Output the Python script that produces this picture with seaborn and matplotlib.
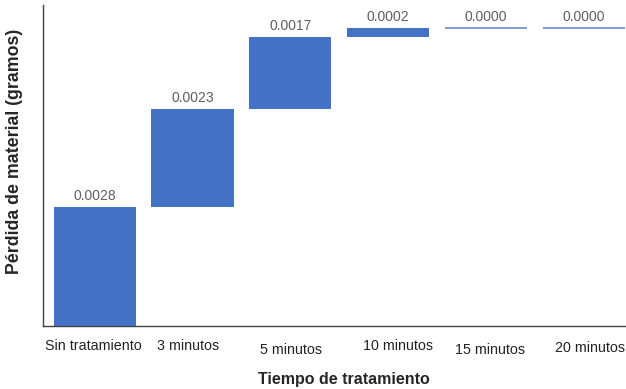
import matplotlib
matplotlib.use("Agg")
import matplotlib.pyplot as plt
import matplotlib.transforms as mtransforms
import seaborn as sns
import pandas as pd
import numpy as np

# Pérdida de material por tiempo de tratamiento (cascada)
categorias = ["Sin tratamiento", "3 minutos", "5 minutos", "10 minutos", "15 minutos", "20 minutos"]
perdidas = [0.0028, 0.0023, 0.0017, 0.0002, 0.0000, 0.0000]

bases = np.concatenate([[0.0], np.cumsum(perdidas)[:-1]])
df = pd.DataFrame({"categoria": categorias, "perdida": perdidas, "base": bases})

sns.set_theme(style="white")
plt.rcParams["font.family"] = ["Liberation Sans", "DejaVu Sans"]

fig = plt.figure(figsize=(6.26, 3.89), dpi=100)
ax = fig.add_axes([0.069, 0.162, 0.931, 0.825])

azul = "#4472C4"
sns.barplot(data=df, x="categoria", y="perdida", bottom=df["base"].to_numpy(),
            color=azul, saturation=1, width=0.84, ax=ax)

for p in ax.patches:
    p.set_linewidth(0)
    if p.get_height() == 0:
        p.set_edgecolor("#6a8bcb")
        p.set_linewidth(1.2)

# Etiquetas de valor sobre cada barra
for i, (v, b) in enumerate(zip(perdidas, bases)):
    ax.annotate(f"{v:.4f}", (i, b + v), xytext=(0, 3), textcoords="offset points",
                ha="center", va="bottom", fontsize=10, color="#5f5f5f")

ax.set_xlim(-0.526, 5.43)
ax.set_ylim(0, 0.00755)
ax.set_yticks([])
ax.set_xlabel("Tiempo de tratamiento", fontsize=11.5, fontweight="bold")
ax.xaxis.label.set_va("center")
ax.xaxis.set_label_coords(0.516, -0.168)
ax.set_ylabel("Pérdida de material (gramos)", fontsize=12.8, fontweight="bold")
ax.yaxis.set_label_coords(-0.034, 0.545)
ax.tick_params(axis="x", length=0, pad=8, labelsize=10.3, labelcolor="#222222")

# Desplazamientos individuales de las etiquetas del eje x (px)
desplazamientos = [(-1, -2), (-4, -2), (1, -6), (10, -2), (4, -6), (6, -4)]
for lbl, (dx, dy) in zip(ax.get_xticklabels(), desplazamientos):
    lbl.set_transform(lbl.get_transform() + mtransforms.ScaledTranslation(dx / 100, dy / 100, fig.dpi_scale_trans))

for s in ["top", "right"]:
    ax.spines[s].set_visible(False)
for s in ["left", "bottom"]:
    ax.spines[s].set_color("#404040")
    ax.spines[s].set_linewidth(1.0)

fig.savefig("out.png", dpi=100)
